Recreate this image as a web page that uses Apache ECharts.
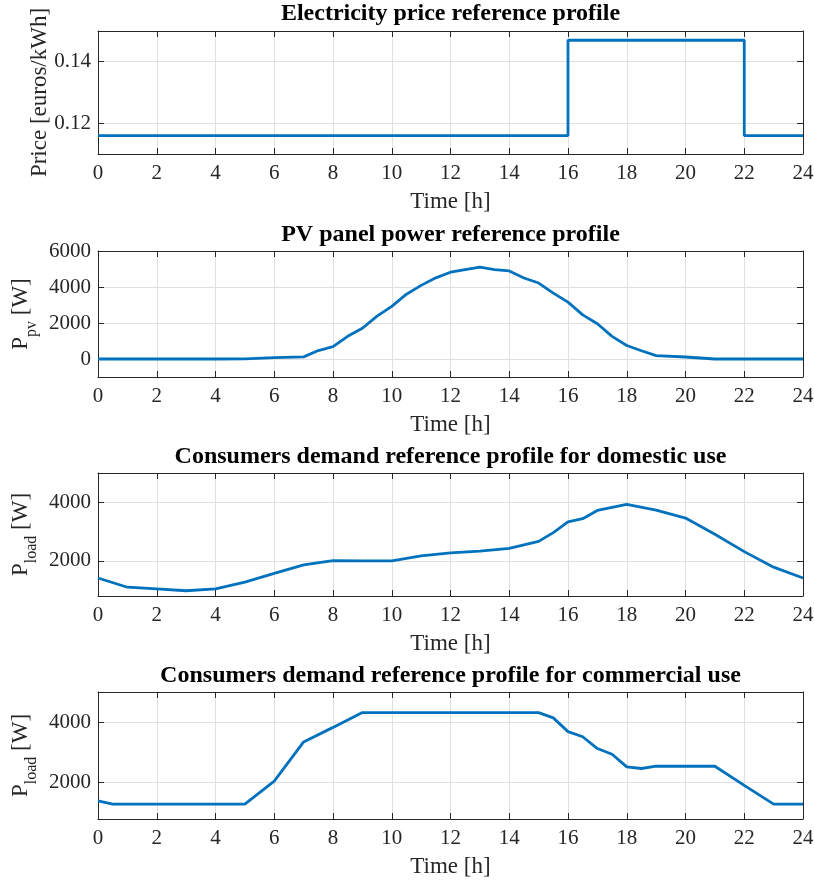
<!DOCTYPE html>
<html>
<head>
<meta charset="utf-8">
<script src="https://cdn.jsdelivr.net/npm/echarts@6/dist/echarts.min.js"></script>
<style>
html,body{margin:0;padding:0;background:#fff;}
#chart{width:814px;height:881px;}
</style>
</head>
<body>
<div id="chart"></div>
<script>
// ---- Data ----
const titles = [
  'Electricity price reference profile',
  'PV panel power reference profile',
  'Consumers demand reference profile for domestic use',
  'Consumers demand reference profile for commercial use'
];
const xTicks = [0, 2, 4, 6, 8, 10, 12, 14, 16, 18, 20, 22, 24];

const priceHours  = [0, 16, 16, 22, 22, 24];
const priceValues = [0.116, 0.116, 0.147, 0.147, 0.116, 0.116];
const priceTicks  = [0.12, 0.14];

const pvHours  = [0,1,2,3,4,5,6,7,7.5,8,8.5,9,9.5,10,10.5,11,11.5,12,12.5,13,13.5,14,14.5,15,15.5,16,16.5,17,17.5,18,18.5,19,20,21,22,23,24];
const pvValues = [0,0,0,0,0,10,75,120,470,690,1260,1710,2380,2920,3600,4090,4510,4820,4970,5100,4970,4890,4500,4220,3660,3160,2450,1960,1260,750,460,185,110,0,0,0,0];
const pvTicks  = [0, 2000, 4000, 6000];

const domHours  = [0,1,2,3,4,5,6,7,8,9,10,11,12,13,14,15,15.5,16,16.5,17,18,19,20,21,22,23,24];
const domValues = [1414,1100,1045,980,1045,1275,1575,1860,2005,2000,2000,2170,2275,2330,2425,2665,2965,3330,3440,3720,3930,3735,3460,2910,2315,1785,1415];
const domTicks  = [2000, 4000];

const comHours  = [0,0.5,1,2,3,4,5,6,7,8,9,10,11,12,13,14,15,15.5,16,16.5,17,17.5,18,18.5,19,20,21,22,23,24];
const comValues = [1400,1290,1290,1290,1290,1290,1290,2050,3350,3830,4320,4320,4320,4320,4320,4320,4320,4145,3690,3520,3130,2940,2525,2470,2545,2545,2545,1910,1290,1290];
const comTicks  = [2000, 4000];

// ---- Styling / layout ----
const FONT = "'Liberation Serif', 'Times New Roman', serif";
const AX = '#262626';
const GRIDC = '#e0e0e0';
const BLUE = '#0072BD';

const panels = [
  {top: 31,  height: 123, ymin: 0.11, ymax: 0.15, ticks: priceTicks, hours: priceHours, vals: priceValues,
   name: 'Price [euros/kWh]', gap: 47, titleTop: 2},
  {top: 251, height: 126, ymin: -1000, ymax: 6000, ticks: pvTicks, hours: pvHours, vals: pvValues,
   name: '{m|P}{s|pv}{m| [W]}', gap: 65, titleTop: 223.5},
  {top: 473, height: 123, ymin: 800, ymax: 5000, ticks: domTicks, hours: domHours, vals: domValues,
   name: '{m|P}{s|load}{m| [W]}', gap: 65, titleTop: 445.5},
  {top: 692, height: 127, ymin: 800, ymax: 5000, ticks: comTicks, hours: comHours, vals: comValues,
   name: '{m|P}{s|load}{m| [W]}', gap: 65, titleTop: 664}
];

const fmt = v => String(v);

const grid = [], xAxis = [], yAxis = [], series = [], title = [];
panels.forEach((p, i) => {
  grid.push({left: 98, right: 11, top: p.top, height: p.height, containLabel: false, outerBoundsMode: 'none'});
  title.push({
    text: titles[i], left: 450.5, textAlign: 'center', top: p.titleTop, padding: 0,
    textStyle: {fontFamily: FONT, fontWeight: 'bold', fontSize: 24, lineHeight: 23, color: '#000'}
  });
  // bottom x axis
  xAxis.push({
    type: 'value', gridIndex: i, position: 'bottom', min: 0, max: 24, interval: 2,
    name: 'Time [h]', nameLocation: 'middle', nameGap: 36, nameMoveOverlap: false,
    nameTextStyle: {fontFamily: FONT, fontSize: 23, color: AX},
    axisLine: {show: true, onZero: false, lineStyle: {color: AX, width: 1}},
    axisTick: {show: true, inside: true, length: 6, lineStyle: {color: AX}},
    axisLabel: {show: true, margin: 9, fontFamily: FONT, fontSize: 21, color: AX, formatter: fmt},
    splitLine: {show: true, lineStyle: {color: GRIDC, width: 1}}
  });
  // top x axis (box)
  xAxis.push({
    type: 'value', gridIndex: i, position: 'top', min: 0, max: 24, interval: 2,
    axisLine: {show: true, onZero: false, lineStyle: {color: AX, width: 1}},
    axisTick: {show: true, inside: true, length: 6, lineStyle: {color: AX}},
    axisLabel: {show: false}, splitLine: {show: false}
  });
  const richStyles = {
    m: {fontFamily: FONT, fontSize: 23, lineHeight: 24, verticalAlign: 'top', color: AX},
    s: {fontFamily: FONT, fontSize: 16, lineHeight: 16, padding: [15, 0, 0, 0], verticalAlign: 'top', color: AX}
  };
  yAxis.push({
    type: 'value', gridIndex: i, position: 'left', min: p.ymin, max: p.ymax,
    name: p.name, nameLocation: 'middle', nameGap: p.gap, nameRotate: 90, nameMoveOverlap: false,
    nameTextStyle: {fontFamily: FONT, fontSize: 23, color: AX, rich: richStyles},
    axisLine: {show: true, onZero: false, lineStyle: {color: AX, width: 1}},
    axisTick: {show: true, inside: true, length: 6, lineStyle: {color: AX}, customValues: p.ticks},
    axisLabel: {show: true, margin: 7, fontFamily: FONT, fontSize: 21, color: AX, customValues: p.ticks, formatter: fmt},
    splitLine: {show: true, lineStyle: {color: GRIDC, width: 1}}
  });
  yAxis.push({
    type: 'value', gridIndex: i, position: 'right', min: p.ymin, max: p.ymax,
    axisLine: {show: true, onZero: false, lineStyle: {color: AX, width: 1}},
    axisTick: {show: true, inside: true, length: 6, lineStyle: {color: AX}, customValues: p.ticks},
    axisLabel: {show: false, customValues: p.ticks}, splitLine: {show: false}
  });
  series.push({
    type: 'line', xAxisIndex: 2 * i, yAxisIndex: 2 * i,
    data: p.hours.map((h, k) => [h, p.vals[k]]),
    showSymbol: false, symbol: 'none', smooth: false,
    lineStyle: {color: BLUE, width: 2.8}, z: 5
  });
});

const chart = echarts.init(document.getElementById('chart'), null, {renderer: 'canvas'});
chart.setOption({
  animation: false,
  backgroundColor: '#ffffff',
  title, grid, xAxis, yAxis, series
});
</script>
</body>
</html>
